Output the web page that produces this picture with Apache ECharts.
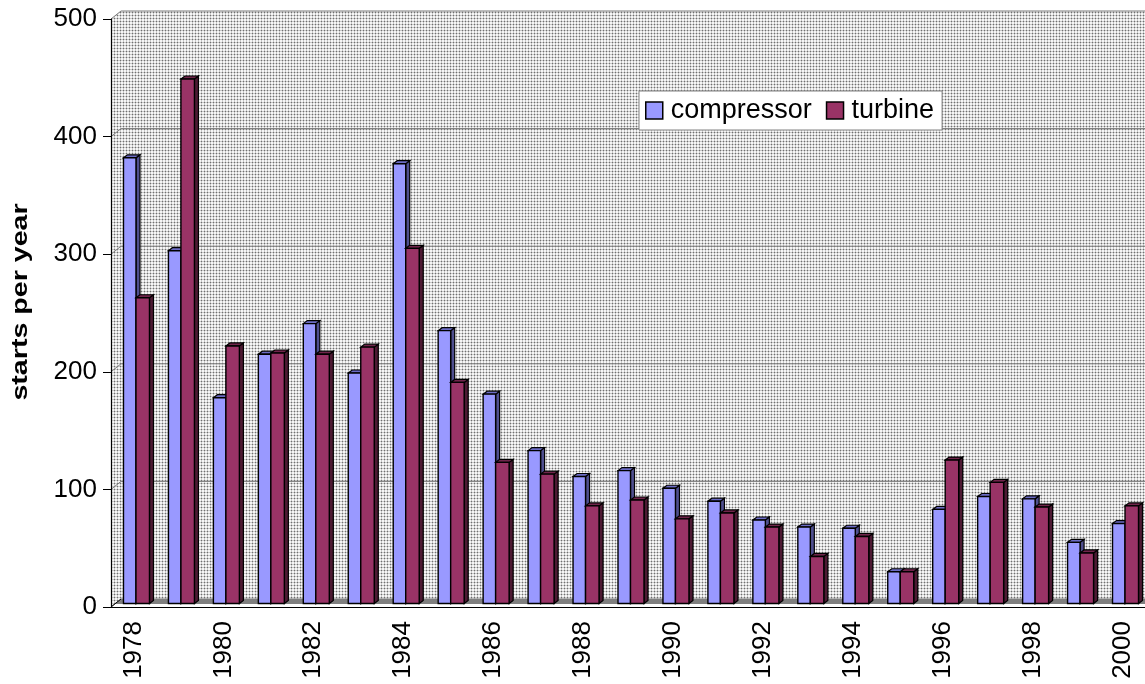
<!DOCTYPE html>
<html>
<head>
<meta charset="utf-8">
<script src="https://cdn.jsdelivr.net/npm/echarts@6/dist/echarts.min.js"></script>
<style>
html, body { margin: 0; padding: 0; background: #fff; }
#main { width: 1145px; height: 684px; }
</style>
</head>
<body>
<div id="main"></div>
<script>
// years on the category axis
var years = ['1978', '1979', '1980', '1981', '1982', '1983', '1984', '1985', '1986', '1987', '1988', '1989',
	'1990', '1991', '1992', '1993', '1994', '1995', '1996', '1997', '1998', '1999', '2000'];
// starts per year
var compressor = [379, 300, 175, 212, 238, 196, 374, 232, 178, 130, 108, 113, 98, 87, 71, 65, 64, 27, 80, 91, 89, 52, 68];
var turbine = [260, 446, 219, 213, 212, 218, 302, 188, 120, 110, 83, 88, 72, 77, 65, 40, 57, 27, 122, 103, 82, 43, 83];
var yTicks = [0, 100, 200, 300, 400, 500];

var FONT = '"Liberation Sans", Arial, sans-serif';

// dotted wall fill
var dot = document.createElement('canvas');
dot.width = 3; dot.height = 3;
var c = dot.getContext('2d');
c.fillStyle = '#f6f6f6'; c.fillRect(0, 0, 3, 3);
c.fillStyle = '#c8c8c8'; c.fillRect(0, 0, 3, 1); c.fillRect(0, 0, 1, 3);
c.fillStyle = '#707070'; c.fillRect(0, 0, 1, 1);
var wallFill = { image: dot, repeat: 'repeat' };

var DX = 10, DY = 8;   // depth of the walls

// back wall, left wall, gridlines and floor
function renderFrame(params, api) {
	var cs = params.coordSys;
	var x0 = cs.x, x1 = cs.x + cs.width + 20;
	var yb = api.coord([0, 0])[1];
	var yt = api.coord([0, yTicks[yTicks.length - 1]])[1];
	var kids = [
		{ type: 'rect', shape: { x: x0 + DX, y: yt - DY, width: x1 - x0, height: yb - yt }, style: { fill: wallFill } },
		{ type: 'polygon', shape: { points: [[x0, yt], [x0 + DX, yt - DY], [x0 + DX, yb - DY], [x0, yb]] }, style: { fill: wallFill } }
	];
	for (var k = 0; k < yTicks.length; k++) {
		var y = api.coord([0, yTicks[k]])[1];
		kids.push({ type: 'polyline', shape: { points: [[x0, y], [x0 + DX, y - DY], [x1, y - DY]] },
			style: { stroke: '#7a7a7a', lineWidth: 1, fill: null } });
	}
	kids.push({ type: 'polygon', shape: { points: [[x0 + 3, yb - 3], [x1, yb - 3], [x1, yb - DY], [x0 + DX, yb - DY]] },
		style: { fill: '#7f7f7f' } });
	kids.push({ type: 'line', shape: { x1: x0, y1: yb, x2: x0 + DX, y2: yb - DY }, style: { stroke: '#000', lineWidth: 1 } });
	return { type: 'group', children: kids };
}

// 3d-looking bar: front face, side face, top face
function bar3d(offset, w, face, side, top) {
	return function (params, api) {
		var i = api.value(0), v = api.value(1);
		var base = api.coord([i, 0]), tip = api.coord([i, v]);
		var x = base[0] + offset, y0 = base[1] - 3.5, y1 = tip[1] - 3.5;
		var dx = 4, dy = 3;
		return {
			type: 'group',
			children: [
				{ type: 'polygon', shape: { points: [[x + w, y1], [x + w + dx, y1 - dy], [x + w + dx, y0 - dy], [x + w, y0]] },
					style: { fill: side, stroke: '#000', lineWidth: 1.2 } },
				{ type: 'polygon', shape: { points: [[x, y1], [x + dx, y1 - dy], [x + w + dx, y1 - dy], [x + w, y1]] },
					style: { fill: top, stroke: '#000', lineWidth: 1.2 } },
				{ type: 'rect', shape: { x: x, y: y1, width: w, height: y0 - y1 },
					style: { fill: face, stroke: '#000', lineWidth: 1.4 } }
			]
		};
	};
}

var compData = [], turbData = [];
for (var i = 0; i < years.length; i++) {
	compData.push([i, compressor[i]]);
	turbData.push([i, turbine[i]]);
}

var chart = echarts.init(document.getElementById('main'));
var option = {
	animation: false,
	backgroundColor: '#fff',
	textStyle: { fontFamily: FONT },
	grid: { left: 111, top: 19, width: 1035, height: 588 },
	legend: {
		data: ['compressor', 'turbine'],
		left: 639, top: 91,
		icon: 'rect', itemWidth: 17, itemHeight: 17, itemGap: 14,
		padding: [6, 8, 6, 6],
		backgroundColor: '#fff', borderColor: '#808080', borderWidth: 1,
		itemStyle: { borderColor: '#000', borderWidth: 1.5 },
		textStyle: { fontSize: 27, color: '#000', fontFamily: FONT, padding: [0, 0, 0, 3] }
	},
	graphic: [{
		type: 'text', x: 21, y: 302, rotation: Math.PI / 2, scaleX: 1.3,
		style: { text: 'starts per year', font: 'bold 22px ' + FONT, fill: '#000', align: 'center', verticalAlign: 'middle' }
	}],
	xAxis: {
		type: 'category', data: years, z: 10,
		axisLine: { lineStyle: { color: '#000', width: 1.2 } },
		axisTick: { interval: 1, length: 10, lineStyle: { color: '#000' } },
		axisLabel: { interval: 1, rotate: 90, margin: 14, fontSize: 26, color: '#000', fontFamily: FONT },
		splitLine: { show: false }
	},
	yAxis: {
		type: 'value', min: 0, max: 500, interval: 100, z: 10,
		axisLine: { show: true, lineStyle: { color: '#000', width: 1.2 } },
		axisTick: { show: true, length: 8, lineStyle: { color: '#000' } },
		axisLabel: { margin: 14, fontSize: 26, color: '#000', fontFamily: FONT },
		splitLine: { show: false }
	},
	series: [
		{ name: 'frame', type: 'custom', z: 1, silent: true, renderItem: renderFrame, data: [[0, 0]], encode: { x: 0, y: 1 } },
		{ name: 'compressor', type: 'custom', z: 3, itemStyle: { color: '#9999ff' },
			renderItem: bar3d(-10, 12.5, '#9999ff', '#4f4f8f', '#6b6bc4'), data: compData, encode: { x: 0, y: 1 } },
		{ name: 'turbine', type: 'custom', z: 4, itemStyle: { color: '#993366' },
			renderItem: bar3d(2.5, 13.5, '#993366', '#4d1a33', '#70254b'), data: turbData, encode: { x: 0, y: 1 } }
	]
};
chart.setOption(option);
</script>
</body>
</html>
